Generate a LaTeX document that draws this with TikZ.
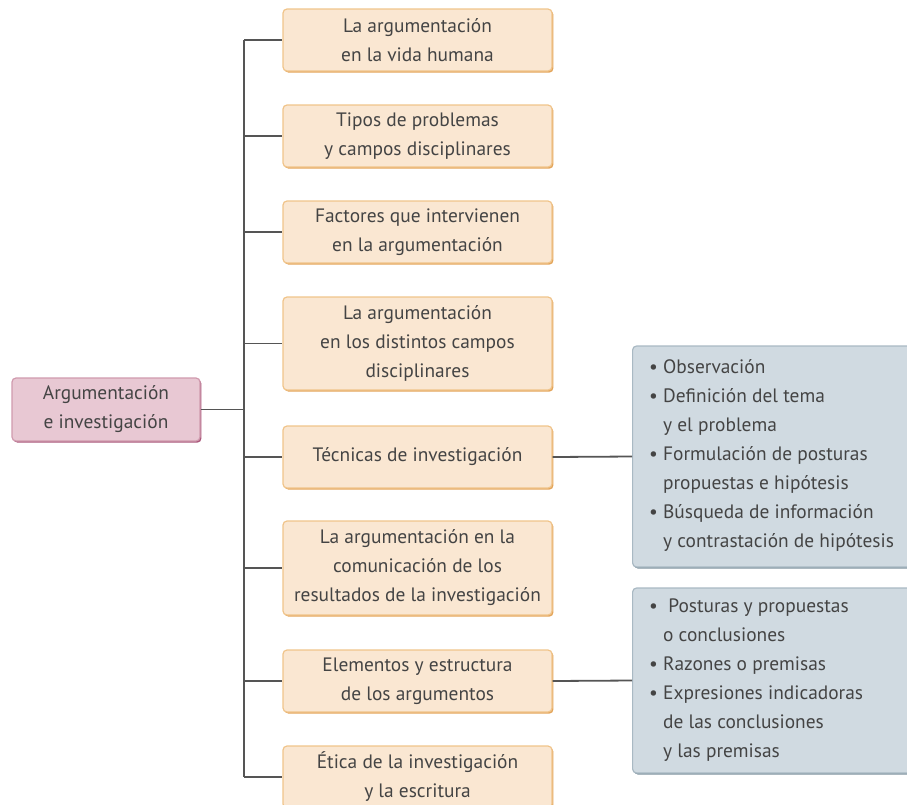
\documentclass[tikz,border=0pt]{standalone}
\usepackage{fontspec}
\setmainfont{PT Sans}
\usetikzlibrary{shadows}
\definecolor{ofill}{HTML}{FAE7D2}
\definecolor{odraw}{HTML}{F0C48A}
\definecolor{oshadow}{HTML}{E3A459}
\definecolor{pfill}{HTML}{E8C8D3}
\definecolor{pdraw}{HTML}{D09AAE}
\definecolor{pshadow}{HTML}{A9567A}
\definecolor{bfill}{HTML}{D0DAE1}
\definecolor{bdraw}{HTML}{A9B9C3}
\definecolor{bshadow}{HTML}{7E929E}
\definecolor{txt}{HTML}{444444}
\definecolor{ln}{HTML}{555555}
\begin{document}
\begin{tikzpicture}[x=1pt,y=-1pt,
  base/.style={rounded corners=4pt, line width=1.2pt, text=txt, font=\fontsize{19.4}{29}\selectfont, inner sep=0pt},
  obox/.style={base, draw=odraw, fill=ofill, minimum width=269pt, align=center,
     drop shadow={shadow xshift=1.4pt, shadow yshift=-1.6pt, fill=oshadow, opacity=1}},
  pbox/.style={base, draw=pdraw, fill=pfill, minimum width=188pt, minimum height=63pt, align=center,
     drop shadow={shadow xshift=1.4pt, shadow yshift=-1.6pt, fill=pshadow, opacity=1}},
  bbox/.style={base, draw=bdraw, fill=bfill, minimum width=280pt, anchor=west,
     drop shadow={shadow xshift=1.4pt, shadow yshift=-1.6pt, fill=bshadow, opacity=1}},
  list/.style={anchor=north west, text=txt, font=\fontsize{19.4}{29}\selectfont, align=left, inner sep=0pt},
  conn/.style={draw=ln, line width=1.8pt}
]
\useasboundingbox (0,0) rectangle (907,804);
\begin{scope}
\clip (0,0) rectangle (907,804);
\node[pbox] (root) at (106,409.5) {Argumentación\\e investigación};
\node[obox, minimum height=62pt] (b1) at (417.5,40) {La argumentación\\en la vida humana};
\node[obox, minimum height=62pt] (b2) at (417.5,136) {Tipos de problemas\\y campos disciplinares};
\node[obox, minimum height=62pt] (b3) at (417.5,232) {Factores que intervienen\\en la argumentación};
\node[obox, minimum height=93pt] (b4) at (417.5,343.5) {La argumentación\\en los distintos campos\\disciplinares};
\node[obox, minimum height=62pt] (b5) at (417.5,457) {Técnicas de investigación};
\node[obox, minimum height=94pt] (b6) at (417.5,568) {La argumentación en la\\comunicación de los\\resultados de la investigación};
\node[obox, minimum height=62pt] (b7) at (417.5,681) {Elementos y estructura\\de los argumentos};
\node[obox, minimum height=62pt] (b8) at (417.5,777) {Ética de la investigación\\y la escritura};
\node[bbox, minimum height=221pt] (r1) at (632,456.5) {};
\node[bbox, minimum height=185pt] (r2) at (632,680.5) {};
\node[list] (r1t) at (649,359)
 {\textbullet\ Observación\\
  \textbullet\ Definición del tema\\
  \phantom{\textbullet\ }y el problema\\
  \textbullet\ Formulación de posturas\\
  \phantom{\textbullet\ }propuestas e hipótesis\\
  \textbullet\ Búsqueda de información\\
  \phantom{\textbullet\ }y contrastación de hipótesis};
\node[list] (r2t) at (649,599)
 {\textbullet\ \ Posturas y propuestas\\
  \phantom{\textbullet\ }o conclusiones\\
  \textbullet\ Razones o premisas\\
  \textbullet\ Expresiones indicadoras\\
  \phantom{\textbullet\ }de las conclusiones\\
  \phantom{\textbullet\ }y las premisas};
\coordinate (tx) at (244,0);
\draw[conn] (b1.west -| tx) -- (b8.west -| tx);
\draw[conn] (root.east) -- (root.east -| tx);
\foreach \b in {b1,b2,b3,b4,b5,b6,b7,b8}
  \draw[conn] (\b.west -| tx) -- (\b.west);
\draw[conn] (b5.east) -- (r1.west);
\draw[conn] (b7.east) -- (r2.west);
\end{scope}
\end{tikzpicture}
\end{document}
